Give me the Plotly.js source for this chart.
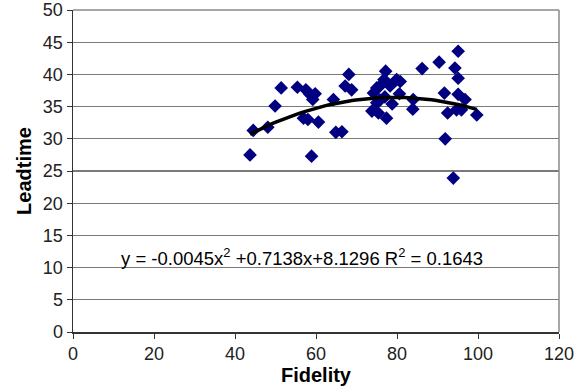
<!DOCTYPE html>
<html><head><meta charset="utf-8">
<script src="https://cdn.plot.ly/plotly-3.0.1.min.js"></script>
<style>html,body{margin:0;padding:0;background:#fff}#c{width:588px;height:392px}</style>
</head><body><div id="c"></div>
<script>
const fidelity = [43.7,44.5,48.1,49.9,51.4,55.4,57.5,58.5,59.8,59.2,56.9,58.0,60.6,58.9,64.3,64.9,66.4,68.1,67.2,68.8,73.8,74.2,75.0,75.8,77.2,76.8,75.8,75.4,77.4,78.8,78.3,79.9,80.8,80.6,84.0,83.9,86.2,90.4,91.7,92.5,91.9,93.9,95.1,94.3,95.1,95.1,94.7,95.9,96.8,99.7,75.0,77.0];
const leadtime = [27.5,31.3,31.8,35.1,37.9,38.0,37.6,36.9,37.0,36.1,33.2,33.0,32.6,27.3,36.1,31.0,31.1,40.0,38.2,37.6,34.3,37.1,37.9,38.2,40.5,39.2,36.0,34.0,33.2,35.4,38.2,39.2,38.9,37.0,36.1,34.6,40.9,41.9,37.1,34.0,30.0,23.9,43.6,41.0,39.4,36.9,34.5,34.5,36.1,33.7,35.6,36.5];
const trendCoef = [-0.0045, 0.7138, 8.1296];
const trendRange = [43.7, 99.7];
const equationText = "y = -0.0045x<sup>2</sup> +0.7138x+8.1296 R<sup>2</sup> = 0.1643";

const tx = [], ty = [];
for (let i = 0; i <= 60; i++) {
  const x = trendRange[0] + (trendRange[1] - trendRange[0]) * i / 60;
  tx.push(x);
  ty.push(trendCoef[0]*x*x + trendCoef[1]*x + trendCoef[2]);
}
const font = 'Liberation Sans, Arial, sans-serif';
Plotly.newPlot('c', [
  {x: fidelity, y: leadtime, type: 'scatter', mode: 'markers',
   marker: {symbol: 'diamond', size: 10.5, color: '#000080'}, cliponaxis: false},
  {x: tx, y: ty, type: 'scatter', mode: 'lines', line: {color: '#000', width: 3.5}}
], {
  width: 588, height: 392,
  margin: {l: 73, r: 29, t: 10, b: 60},
  showlegend: false,
  paper_bgcolor: '#fff', plot_bgcolor: '#fff',
  font: {family: font, color: '#000', size: 17},
  xaxis: {range: [0, 120], dtick: 20, tick0: 0, showgrid: false, zeroline: false,
    showline: true, linecolor: '#333', linewidth: 1.5, ticks: 'outside', ticklen: 5, tickcolor: '#333',
    mirror: false, tickfont: {size: 18, color: '#222'},
    title: {text: '<b>Fidelity</b>', font: {size: 20}, standoff: 4}},
  yaxis: {range: [0, 50], dtick: 5, tick0: 0, showgrid: true, gridcolor: '#7a7a7a', gridwidth: 1.2,
    zeroline: false, showline: true, linecolor: '#333', linewidth: 1.5, ticks: 'outside', ticklen: 5,
    tickcolor: '#333', tickfont: {size: 18, color: '#222'},
    title: {text: '<b>Leadtime</b>', font: {size: 20}, standoff: 6}},
  shapes: [
    {type: 'line', xref: 'paper', yref: 'paper', x0: 1, x1: 1, y0: 0, y1: 1, line: {color: '#8a8a8a', width: 1.5}},
    {type: 'line', xref: 'paper', yref: 'paper', x0: 0, x1: 1, y0: 1, y1: 1, line: {color: '#8a8a8a', width: 1.5}}
  ],
  annotations: [{x: 56.5, y: 11.6, xref: 'x', yref: 'y', text: equationText, showarrow: false,
    font: {size: 18.5, color: '#000'}}]
}, {staticPlot: true});
</script></body></html>
